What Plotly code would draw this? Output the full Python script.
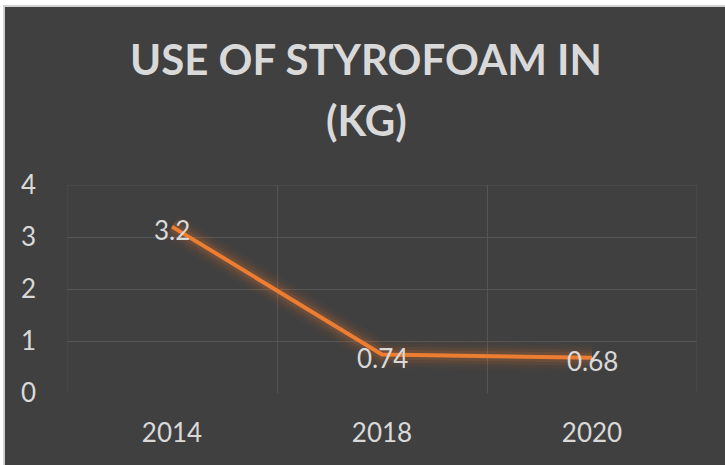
import plotly.graph_objects as go

years = ["2014", "2018", "2020"]
usage_kg = [3.2, 0.74, 0.68]
value_labels = ["3.2", "0.74", "0.68"]
y_ticks = [0, 1, 2, 3, 4]
title_lines = ["USE OF STYROFOAM IN", "(KG)"]

W, H = 725, 465
L, R, T, B = 67, 28, 185, 72
pw, ph = W - L - R, H - T - B
FONT = "Lato, Open Sans, sans-serif"
TXT = "#d9d9d9"
GRID = "#555555"

def px_x(px):
    return (px - L) / pw

def px_y(py):
    return (H - B - py) / ph

fig = go.Figure()

# glow layers
for w, a in [(28, 0.035), (22, 0.05), (16, 0.08), (10, 0.13)]:
    fig.add_trace(go.Scatter(
        x=years, y=usage_kg, mode="lines",
        line=dict(color=f"rgba(237,125,49,{a})", width=w),
        hoverinfo="skip", showlegend=False,
    ))

fig.add_trace(go.Scatter(
    x=years, y=usage_kg, mode="lines",
    line=dict(color="#ED7D31", width=4),
    showlegend=False,
))

annotations = []
for i, (yv, lab) in enumerate(zip(usage_kg, value_labels)):
    annotations.append(dict(
        text=lab, x=i, y=yv, xref="x", yref="y",
        xanchor="center", yanchor="middle", yshift=-3,
        showarrow=False, font=dict(family=FONT, size=26, color=TXT),
    ))
for line, cy in zip(title_lines, [56, 117]):
    annotations.append(dict(
        text=f"<b>{line}</b>", xref="paper", yref="paper",
        x=px_x(366), y=px_y(cy + 3), xanchor="center", yanchor="middle",
        showarrow=False, font=dict(family=FONT, size=42, color=TXT),
    ))

shapes = [
    # edge gridlines (top and category boundaries at the plot edges)
    dict(type="line", xref="paper", yref="y", x0=0, x1=1, y0=4, y1=4,
         line=dict(color=GRID, width=1), layer="below"),
    dict(type="line", xref="x", yref="paper", x0=-0.5, x1=-0.5, y0=0, y1=1,
         line=dict(color="#4d4d4d", width=1), layer="below"),
    dict(type="line", xref="x", yref="paper", x0=2.5, x1=2.5, y0=0, y1=1,
         line=dict(color="#4d4d4d", width=1), layer="below"),
    # page border strips
    dict(type="rect", xref="paper", yref="paper",
         x0=px_x(-5), x1=px_x(W + 5), y0=px_y(5), y1=px_y(-5),
         fillcolor="#ffffff", line=dict(width=0), layer="above"),
    dict(type="rect", xref="paper", yref="paper",
         x0=px_x(-5), x1=px_x(3), y0=px_y(H + 5), y1=px_y(-5),
         fillcolor="#ffffff", line=dict(width=0), layer="above"),
    dict(type="rect", xref="paper", yref="paper",
         x0=px_x(3), x1=px_x(W + 5), y0=px_y(7), y1=px_y(5),
         fillcolor="#d0d0d0", line=dict(width=0), layer="above"),
    dict(type="rect", xref="paper", yref="paper",
         x0=px_x(3), x1=px_x(5), y0=px_y(H + 5), y1=px_y(5),
         fillcolor="#d0d0d0", line=dict(width=0), layer="above"),
]

fig.update_layout(
    width=W, height=H,
    margin=dict(l=L, r=R, t=T, b=B),
    paper_bgcolor="#404040",
    plot_bgcolor="#404040",
    annotations=annotations,
    shapes=shapes,
    xaxis=dict(
        type="category", tickson="boundaries",
        showgrid=True, gridcolor=GRID, gridwidth=1,
        showline=False, zeroline=False, ticks="",
        ticklabelstandoff=22,
        tickfont=dict(family=FONT, size=26, color=TXT),
        range=[-0.5, 2.5],
    ),
    yaxis=dict(
        range=[0, 4], tickvals=y_ticks, showgrid=True,
        gridcolor=GRID, gridwidth=1, zeroline=False, showline=False,
        ticks="", ticklabelstandoff=30,
        tickfont=dict(family=FONT, size=26, color=TXT),
    ),
)

fig.write_html("out.html", config={"displayModeBar": False},
               post_script="document.body.style.margin='0';")
